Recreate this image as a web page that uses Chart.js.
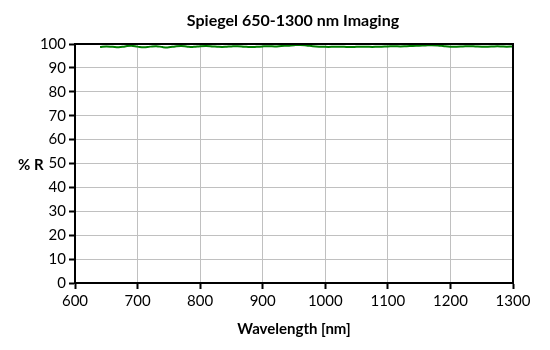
<!DOCTYPE html>
<html>
<head>
<meta charset="utf-8">
<script src="https://cdn.jsdelivr.net/npm/chart.js@4"></script>
<style>
  body { margin: 0; background: #fff; }
  canvas { display: block; }
</style>
</head>
<body>
<canvas id="spiegelChart" width="550" height="350"></canvas>
<script>
const wavelengths = [640, 650, 660, 670, 680, 690, 700, 710, 720, 730, 740, 750, 760, 770, 780, 790,
  800, 810, 820, 830, 840, 850, 860, 870, 880, 890, 900, 910, 920, 930, 940, 950, 960, 970, 980, 990,
  1000, 1010, 1020, 1030, 1040, 1050, 1060, 1070, 1080, 1090, 1100, 1110, 1120, 1130, 1140, 1150,
  1160, 1170, 1180, 1190, 1200, 1210, 1220, 1230, 1240, 1250, 1260, 1270, 1280, 1290, 1300]
const reflectance = [98.7, 99.0, 98.8, 98.6, 99.0, 99.3, 98.9, 98.6, 98.9, 99.1, 98.7, 98.6, 99.0, 99.2, 98.9, 98.8,
  99.1, 99.2, 99.0, 98.8, 98.8, 99.0, 99.1, 98.9, 98.7, 98.8, 99.0, 99.1, 99.0, 99.2, 99.3, 99.5, 99.6, 99.4, 99.1, 98.9,
  98.8, 98.8, 98.9, 98.8, 98.7, 98.8, 98.9, 98.8, 98.8, 98.9, 99.0, 99.1, 99.0, 99.1, 99.2, 99.3,
  99.4, 99.5, 99.4, 99.1, 98.9, 98.9, 99.0, 99.1, 99.0, 98.9, 98.9, 99.0, 99.0, 98.9, 99.0]
const xTicks = [600, 700, 800, 900, 1000, 1100, 1200, 1300]
const yTicks = [0, 10, 20, 30, 40, 50, 60, 70, 80, 90, 100]

const fontFamily = 'Lato, "DejaVu Sans", sans-serif'

// frame round the plot area, the title and the horizontal "% R" label
const framePlugin = {
    id: 'frame',
    afterDatasetsDraw(chart) {
        const a = chart.chartArea
        const ctx = chart.ctx
        ctx.save()
        ctx.strokeStyle = '#000'
        ctx.lineWidth = 2
        ctx.strokeRect(a.left, a.top, a.right - a.left, a.bottom - a.top)
        ctx.restore()
    },
    afterDraw(chart) {
        const a = chart.chartArea
        const ctx = chart.ctx
        ctx.save()
        ctx.fillStyle = '#000'
        ctx.font = 'bold 15px ' + fontFamily
        ctx.textAlign = 'left'
        ctx.textBaseline = 'middle'
        ctx.fillText('% R', 18, (a.top + a.bottom) / 2 + 2)
        ctx.textAlign = 'center'
        ctx.font = 'bold 16px ' + fontFamily
        ctx.fillText('Spiegel 650-1300 nm Imaging', 293, 21)
        ctx.restore()
    }
}

const points = wavelengths.map((w, i) => ({ x: w, y: reflectance[i] }))

new Chart(document.getElementById('spiegelChart'), {
    type: 'line',
    data: {
        datasets: [{
            data: points,
            borderColor: '#008000',
            borderWidth: 2,
            pointRadius: 0,
            tension: 0.4,
            clip: false
        }]
    },
    options: {
        responsive: false,
        animation: false,
        layout: { padding: { top: 44, right: 37, left: 0, bottom: 0 } },
        plugins: { legend: { display: false }, tooltip: { enabled: false }, title: { display: false } },
        scales: {
            x: {
                type: 'linear',
                min: 600,
                max: 1300,
                afterBuildTicks(s) { s.ticks = xTicks.map(v => ({ value: v })) },
                afterFit(s) { s.height = 67 },
                grid: { color: '#c0c0c0', tickColor: '#000', tickLength: 6, tickWidth: 2 },
                border: { color: '#000', width: 2 },
                ticks: { color: '#000', font: { size: 15, family: fontFamily }, padding: 3, maxRotation: 0, callback: v => String(v) },
                title: { display: true, text: 'Wavelength [nm]', color: '#000', font: { size: 15, weight: 'bold', family: fontFamily }, padding: { top: 0, bottom: 12 } }
            },
            y: {
                min: 0,
                max: 100,
                afterBuildTicks(s) { s.ticks = yTicks.map(v => ({ value: v })) },
                afterFit(s) { s.width = 75 },
                grid: { color: '#c0c0c0', tickColor: '#000', tickLength: 6, tickWidth: 2 },
                border: { color: '#000', width: 2 },
                ticks: { color: '#000', font: { size: 15, family: fontFamily }, padding: 3, callback: v => String(v) }
            }
        }
    },
    plugins: [framePlugin]
})
</script>
</body>
</html>
